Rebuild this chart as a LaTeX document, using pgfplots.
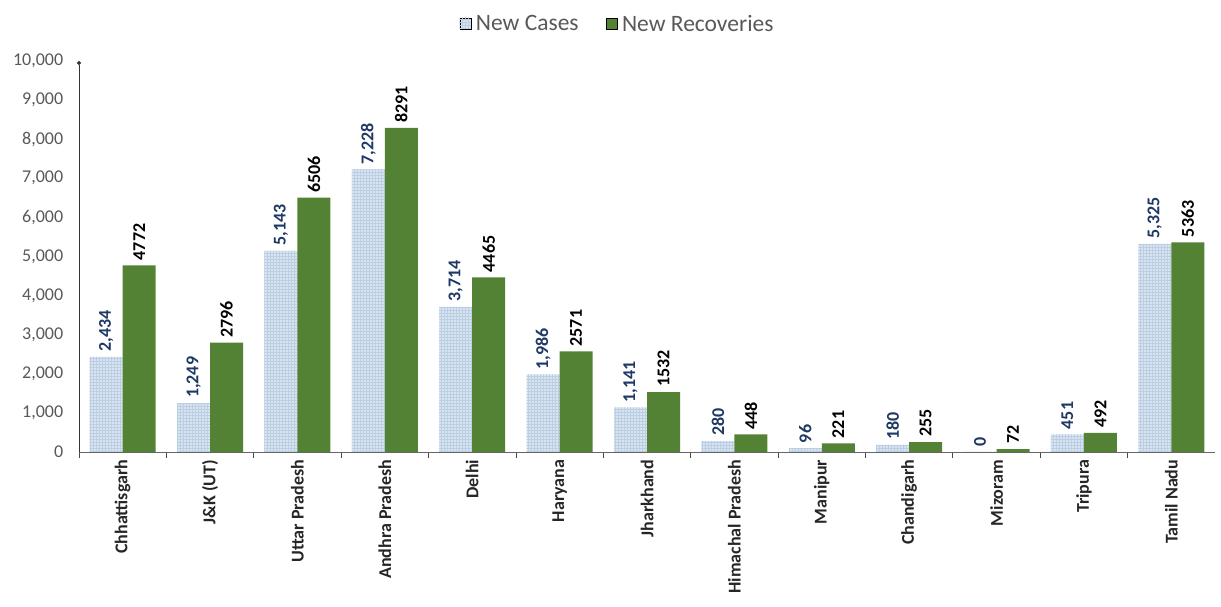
\documentclass[border=0pt]{standalone}
\usepackage{fontspec}
\setmainfont{Carlito}
\usepackage{pgfplots}
\pgfplotsset{compat=1.18}
\usetikzlibrary{patterns,arrows.meta}

\definecolor{casefill}{RGB}{216,228,241}
\definecolor{casegrid}{RGB}{188,206,226}
\definecolor{recov}{RGB}{84,130,53}
\definecolor{casetext}{RGB}{31,56,100}
\definecolor{ticktext}{RGB}{89,89,89}

\begin{document}
\begin{tikzpicture}
\path[use as bounding box] (0,0) rectangle (1221pt,607pt);
\begin{axis}[
    at={(79pt,155pt)}, anchor=south west,
    scale only axis,
    width=1136pt, height=391pt,
    ybar=0pt, bar width=33pt,
    xmin=-0.5, xmax=12.5,
    ymin=0, ymax=10000,
    ytick={0,1000,...,10000},
    scaled y ticks=false,
    xtick=data,
    xticklabels={Chhattisgarh,J\&K (UT),Uttar Pradesh,Andhra Pradesh,Delhi,Haryana,Jharkhand,Himachal Pradesh,Manipur,Chandigarh,Mizoram,Tripura,Tamil Nadu},
    x tick label style={rotate=90, anchor=east, font=\fontsize{18}{19}\selectfont\bfseries, text=black!85},
    y tick label style={font=\fontsize{18}{19}\selectfont, text=ticktext, xshift=-8pt},
    /pgf/number format/assume math mode=true,
    /pgf/number format/1000 sep={,},
    major x tick style={draw=none},
    minor xtick={-0.5,0.5,...,11.5},
    minor x tick style={draw=black!70, line width=0.8pt},
    minor tick length=6pt,
    ytick style={draw=none},
    axis x line*=bottom,
    axis y line*=left,
    x axis line style={draw=black!60, line width=0.8pt, -},
    y axis line style={draw=black!80, line width=0.8pt, -{Circle[length=4pt]}},
    tick align=outside,
    xtick pos=bottom,
    legend style={at={(0.5,1.0)}, anchor=south, xshift=-28pt, yshift=24pt, draw=none,
        legend columns=2, font=\fontsize{23.5}{24}\selectfont, text=ticktext,
        nodes={inner xsep=5pt},
        /tikz/every even column/.append style={column sep=22pt}},
    legend image code/.code={\draw[#1] (-2pt,-5pt) rectangle (9pt,6pt);},
    nodes near coords,
    every node near coord/.append style={rotate=90, anchor=west,
        font=\fontsize{18}{19}\selectfont\bfseries, inner sep=5pt},
]
\addplot[fill=casefill, draw=none,
    postaction={pattern=grid, pattern color=casegrid},
    nodes near coords={\pgfmathprintnumber[1000 sep={,}]{\pgfplotspointmeta}},
    every node near coord/.append style={text=casetext}]
coordinates {
  (0,2434) (1,1249) (2,5143) (3,7228) (4,3714) (5,1986) (6,1141)
  (7,280) (8,96) (9,180) (10,0) (11,451) (12,5325)
};
\addplot[fill=recov, draw=none,
    nodes near coords={\pgfmathprintnumber[1000 sep={}]{\pgfplotspointmeta}},
    every node near coord/.append style={text=black}]
coordinates {
  (0,4772) (1,2796) (2,6506) (3,8291) (4,4465) (5,2571) (6,1532)
  (7,448) (8,221) (9,255) (10,72) (11,492) (12,5363)
};
\legend{New Cases, New Recoveries}
\end{axis}
\end{tikzpicture}
\end{document}
